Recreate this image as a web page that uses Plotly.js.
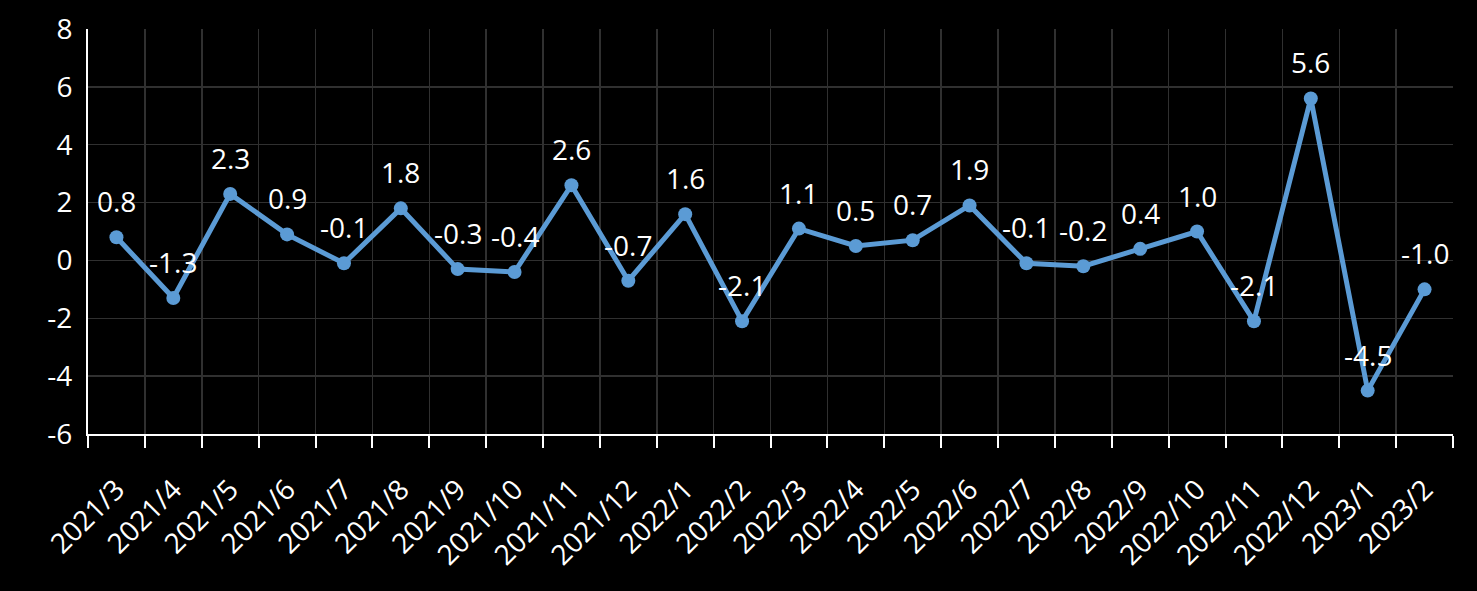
<!DOCTYPE html>
<html>
<head>
<meta charset="utf-8">
<script src="https://cdn.plot.ly/plotly-3.0.1.min.js"></script>
<style>html,body{margin:0;padding:0;background:#000;}#chart{width:1477px;height:591px;}</style>
</head>
<body>
<div id="chart"></div>
<script>
const months = ["2021/3","2021/4","2021/5","2021/6","2021/7","2021/8","2021/9","2021/10","2021/11","2021/12","2022/1","2022/2","2022/3","2022/4","2022/5","2022/6","2022/7","2022/8","2022/9","2022/10","2022/11","2022/12","2023/1","2023/2"];
const values = [0.8,-1.3,2.3,0.9,-0.1,1.8,-0.3,-0.4,2.6,-0.7,1.6,-2.1,1.1,0.5,0.7,1.9,-0.1,-0.2,0.4,1.0,-2.1,5.6,-4.5,-1.0];
const yTicks = [-6,-4,-2,0,2,4,6,8];

const fontFam = '"Open Sans", "Noto Sans", sans-serif';
const trace = {
  x: months, y: values, type: 'scatter', mode: 'lines+markers',
  line: {color: '#5B9BD5', width: 5},
  marker: {color: '#5B9BD5', size: 14},
  hoverinfo: 'skip'
};
const annotations = months.map((m, i) => ({
  x: m, y: values[i], xref: 'x', yref: 'y',
  text: values[i].toFixed(1), showarrow: false, yshift: 36,
  font: {family: fontFam, size: 28, color: '#ffffff'}
}));
const layout = {
  width: 1477, height: 591,
  paper_bgcolor: '#000', plot_bgcolor: '#000',
  margin: {l: 88, r: 24, t: 29, b: 157},
  showlegend: false,
  font: {family: fontFam, color: '#fff'},
  xaxis: {
    type: 'category', tickson: 'boundaries',
    showgrid: true, gridcolor: '#303030', gridwidth: 1.5,
    showline: true, linecolor: '#ffffff', linewidth: 2,
    ticks: 'outside', ticklen: 12, tickwidth: 2, tickcolor: '#ffffff',
    tickangle: -45, ticklabelstandoff: 26,
    tickfont: {family: fontFam, size: 28, color: '#ffffff'},
    range: [-0.5, months.length - 0.5], fixedrange: true
  },
  yaxis: {
    range: [-6, 8], tickvals: yTicks, ticktext: yTicks.map(String),
    showgrid: true, gridcolor: '#303030', gridwidth: 1.5,
    zeroline: false,
    showline: true, linecolor: '#ffffff', linewidth: 2,
    ticks: 'outside', ticklen: 0, tickcolor: 'rgba(0,0,0,0)', ticklabelstandoff: 8,
    tickfont: {family: fontFam, size: 28, color: '#ffffff'},
    fixedrange: true
  },
  annotations: annotations
};
Plotly.newPlot('chart', [trace], layout, {displayModeBar: false, staticPlot: true});
</script>
</body>
</html>
